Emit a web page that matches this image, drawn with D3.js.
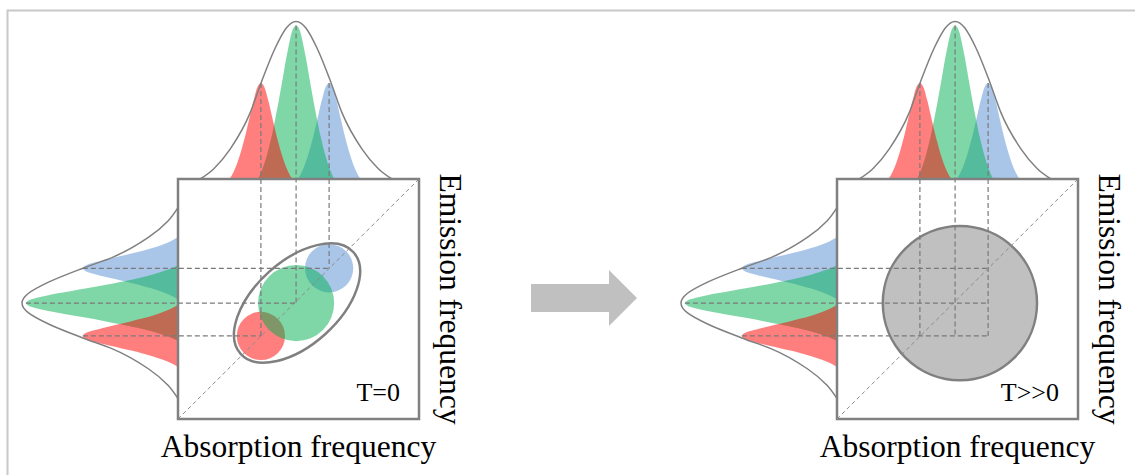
<!DOCTYPE html>
<html>
<head>
<meta charset="utf-8">
<script src="https://cdn.jsdelivr.net/npm/d3@7"></script>
<style>
    body { margin: 0; background: #fff; }
</style>
</head>
<body>
<div id="chart"></div>
<script>
// frequency in arbitrary units, 0..10 across the square
const bandNames = ['blue', 'green', 'red']; // drawing order of the bands
const bandColors = ['#548dd4', '#00b050', '#ff0000'];
const absorptionCenters = [6.27, 4.9, 3.44];
const emissionCenters = [6.28, 4.83, 3.46];
const bandHalfWidths = [1.3, 1.58, 1.3];
const bandHeights = [0.61, 0.975, 0.61];
const spotRadii = [1.0, 1.58, 1.0];
const spotOrder = ['red', 'blue', 'green'];

// shape of one band: offset / half width -> relative height
const bandProfileOffsets = [0, 0.05, 0.1, 0.15, 0.2, 0.257, 0.32, 0.39, 0.47, 0.557, 0.65, 0.757, 0.87, 1];
const bandProfileHeights = [1, 0.99, 0.965, 0.92, 0.86, 0.79, 0.7, 0.6, 0.49, 0.38, 0.27, 0.165, 0.075, 0];

// inhomogeneous envelope
const envelopeAbsCenter = 4.9;
const envelopeEmCenter = 4.83;
const envelopeHalfWidth = 3.98;
const envelopeProfileOffsets = [0, 0.05, 0.1, 0.219, 0.365, 0.479, 0.6875, 0.86, 1];
const envelopeProfileHeights = [1, 0.99, 0.96, 0.83, 0.61, 0.42, 0.19, 0.064, 0];

// T=0: ellipse around the three spots, T>>0: one broad spot
const ellipseCenter = [4.94, 4.83];
const ellipseAxes = [3.15, 1.74];
const ellipseAngle = 42;
const broadSpotCenter = [5.1, 4.83];
const broadSpotRadius = 3.2;

const panelLabels = ['T=0', 'T>>0'];
const xAxisLabel = 'Absorption frequency';
const yAxisLabel = 'Emission frequency';

const width = 1135;
const height = 475;
const boxW = 241;
const boxH = 240;
const panelOrigins = [[178, 179], [837, 179]];
const font = '"Liberation Serif", "Times New Roman", serif';

const svg = d3
    .select('#chart')
    .append('svg')
    .attr('width', width)
    .attr('height', height);

// outer frame (top and left only)
svg.append('path')
    .attr('d', `M7.5,${height} V10.5 H${width}`)
    .attr('fill', 'none')
    .attr('stroke', '#c8c8c8')
    .attr('stroke-width', 2);

// scales
const x = d3.scaleLinear().domain([0, 10]).range([0, boxW]);
const y = d3.scaleLinear().domain([0, 10]).range([boxH, 0]);
const topI = d3.scaleLinear().domain([0, 1]).range([0, -157.5]);
const leftI = d3.scaleLinear().domain([0, 1]).range([0, -156]);

// build the outline points of a band, left to right
function profilePoints(center, halfWidth, peak, offs, hs) {
    const pts = [];
    for (let i = offs.length - 1; i > 0; i--) {
        pts.push({ u: center - offs[i] * halfWidth, v: hs[i] * peak });
    }
    pts.push({ u: center, v: hs[0] * peak });
    for (let i = 1; i < offs.length; i++) {
        pts.push({ u: center + offs[i] * halfWidth, v: hs[i] * peak });
    }
    return pts;
}

const topArea = d3.area()
    .x((d) => x(d.u))
    .y0(0)
    .y1((d) => topI(d.v))
    .curve(d3.curveMonotoneX);

const leftArea = d3.area()
    .y((d) => y(d.u))
    .x0(0)
    .x1((d) => leftI(d.v))
    .curve(d3.curveMonotoneY);

const topLine = d3.line()
    .x((d) => x(d.u))
    .y((d) => topI(d.v))
    .curve(d3.curveMonotoneX);

const leftLine = d3.line()
    .y((d) => y(d.u))
    .x((d) => leftI(d.v))
    .curve(d3.curveMonotoneY);

const bands = bandNames.map((name, i) => ({
    name,
    color: bandColors[i],
    abs: absorptionCenters[i],
    em: emissionCenters[i],
    halfWidth: bandHalfWidths[i],
    peak: bandHeights[i],
    r: spotRadii[i],
}));

function drawPanel(idx) {
    const g = svg.append('g')
        .attr('transform', `translate(${panelOrigins[idx][0]},${panelOrigins[idx][1]})`);

    // bands on top (absorption) and left (emission)
    bands.forEach((b) => {
        const pts = profilePoints(b.abs, b.halfWidth, b.peak, bandProfileOffsets, bandProfileHeights);
        g.append('path')
            .attr('d', topArea(pts))
            .attr('fill', b.color)
            .attr('fill-opacity', 0.5);
        const lpts = profilePoints(b.em, b.halfWidth, b.peak, bandProfileOffsets, bandProfileHeights).reverse();
        g.append('path')
            .attr('d', leftArea(lpts))
            .attr('fill', b.color)
            .attr('fill-opacity', 0.5);
    });

    // envelopes
    g.append('path')
        .attr('d', topLine(profilePoints(envelopeAbsCenter, envelopeHalfWidth, 1, envelopeProfileOffsets, envelopeProfileHeights)))
        .attr('fill', 'none')
        .attr('stroke', '#808080')
        .attr('stroke-width', 1.5);
    g.append('path')
        .attr('d', leftLine(profilePoints(envelopeEmCenter, envelopeHalfWidth, 1, envelopeProfileOffsets, envelopeProfileHeights).reverse()))
        .attr('fill', 'none')
        .attr('stroke', '#808080')
        .attr('stroke-width', 1.5);

    // the 2D box
    g.append('rect')
        .attr('width', boxW)
        .attr('height', boxH)
        .attr('fill', '#fff')
        .attr('stroke', '#808080')
        .attr('stroke-width', 2.5);

    if (idx === 0) {
        spotOrder.forEach((name) => {
            const b = bands.find((d) => d.name === name);
            g.append('circle')
                .attr('cx', x(b.abs))
                .attr('cy', y(b.em))
                .attr('r', x(b.r) - x(0))
                .attr('fill', b.color)
                .attr('fill-opacity', 0.5);
        });
        g.append('ellipse')
            .attr('transform', `translate(${x(ellipseCenter[0])},${y(ellipseCenter[1])}) rotate(${-ellipseAngle})`)
            .attr('rx', x(ellipseAxes[0]) - x(0))
            .attr('ry', x(ellipseAxes[1]) - x(0))
            .attr('fill', 'none')
            .attr('stroke', '#808080')
            .attr('stroke-width', 2.5);
    } else {
        g.append('circle')
            .attr('cx', x(broadSpotCenter[0]))
            .attr('cy', y(broadSpotCenter[1]))
            .attr('r', x(broadSpotRadius) - x(0))
            .attr('fill', '#c0c0c0')
            .attr('stroke', '#808080')
            .attr('stroke-width', 2.5);
    }

    // diagonal
    g.append('line')
        .attr('x1', x(0)).attr('y1', y(0))
        .attr('x2', x(10)).attr('y2', y(10))
        .attr('stroke', '#8c8c8c')
        .attr('stroke-width', 1)
        .attr('stroke-dasharray', '4,3');

    // dashed guides from the band peaks
    const minEm = d3.min(bands, (d) => d.em);
    const maxAbs = d3.max(bands, (d) => d.abs);
    bands.forEach((b) => {
        g.append('line')
            .attr('x1', x(b.abs)).attr('y1', topI(b.peak))
            .attr('x2', x(b.abs)).attr('y2', idx === 0 ? y(b.em) : y(minEm))
            .attr('stroke', '#7a7a7a')
            .attr('stroke-width', 1.2)
            .attr('stroke-dasharray', '5,3');
        g.append('line')
            .attr('x1', leftI(b.peak)).attr('y1', y(b.em))
            .attr('x2', idx === 0 ? x(b.abs) : x(maxAbs)).attr('y2', y(b.em))
            .attr('stroke', '#7a7a7a')
            .attr('stroke-width', 1.2)
            .attr('stroke-dasharray', '5,3');
    });

    // texts
    g.append('text')
        .attr('x', boxW - 19)
        .attr('y', boxH - 18)
        .attr('text-anchor', 'end')
        .style('font-family', font)
        .style('font-size', '26px')
        .text(panelLabels[idx]);

    g.append('text')
        .attr('x', boxW / 2)
        .attr('y', boxH + 38)
        .attr('text-anchor', 'middle')
        .style('font-family', font)
        .style('font-size', '31.5px')
        .text(xAxisLabel);

    g.append('text')
        .attr('transform', `translate(${boxW + 20.5},${boxH / 2}) rotate(90)`)
        .attr('text-anchor', 'middle')
        .style('font-family', font)
        .style('font-size', '31.5px')
        .text(yAxisLabel);
}

drawPanel(0);
drawPanel(1);

// arrow between the panels
const arrowPts = [[531, 284], [609, 284], [609, 270], [637, 298], [609, 326], [609, 312], [531, 312]];
svg.append('polygon')
    .attr('points', arrowPts.map((p) => p.join(',')).join(' '))
    .attr('fill', '#c0c0c0');
</script>
</body>
</html>
